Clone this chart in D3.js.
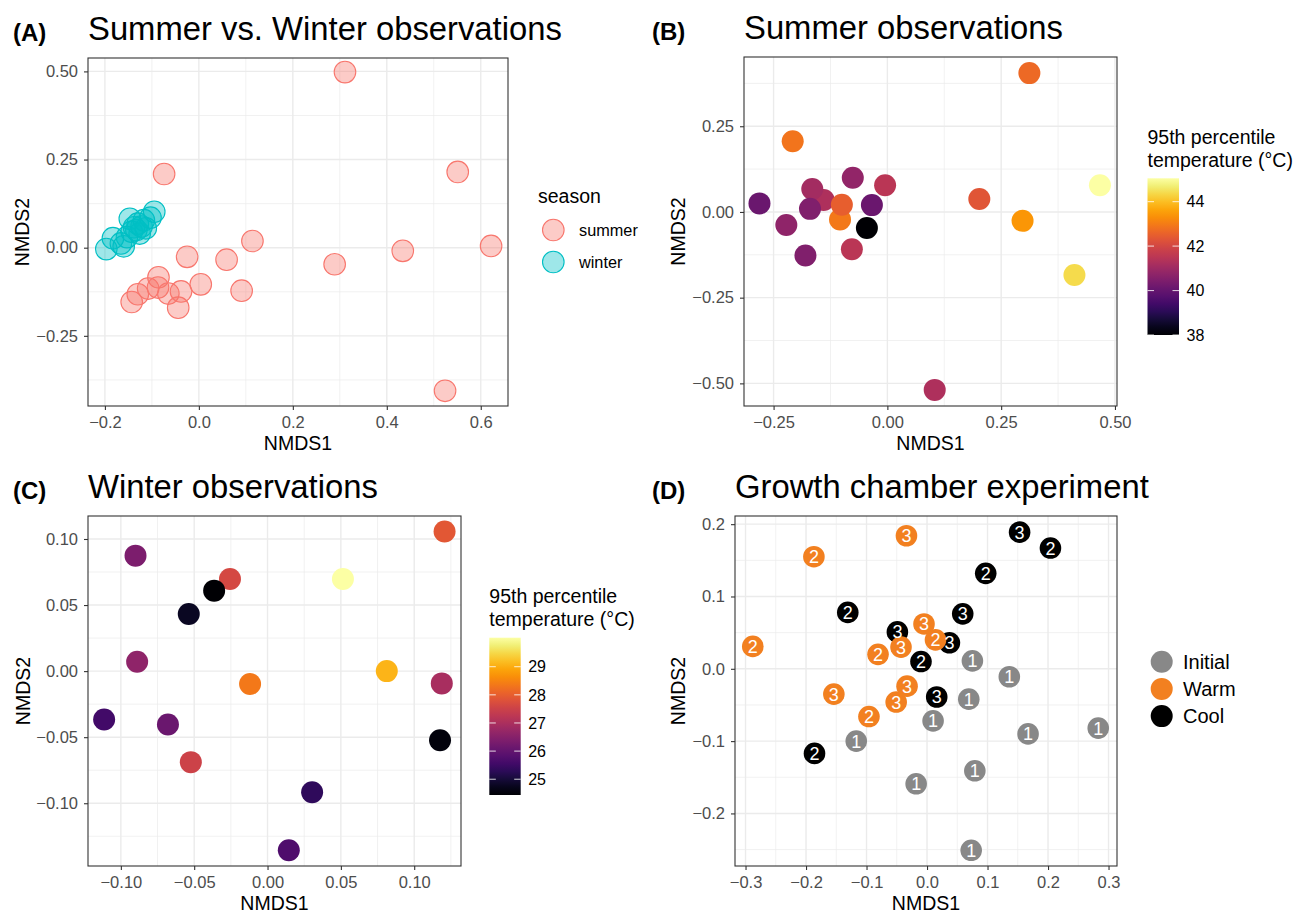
<!DOCTYPE html>
<html>
<head>
<meta charset="utf-8">
<script src="https://cdn.jsdelivr.net/npm/d3@7"></script>
<style>
  body { margin: 0; background: #fff; }
  svg text { font-family: "Liberation Sans", Arial, Helvetica, sans-serif; }
</style>
</head>
<body>
<svg id="fig" width="1295" height="913"></svg>
<script>
// ---- data ----
// (A) summer vs winter
const summerX = [0.311, -0.074, 0.551, 0.114, -0.025, 0.059, 0.289, 0.434, 0.622, 0.004,
                 0.091, -0.086, -0.087, -0.108, -0.130, -0.143, -0.065, -0.038, -0.044, 0.524];
const summerY = [0.498, 0.209, 0.215, 0.019, -0.026, -0.034, -0.047, -0.009, 0.005, -0.104,
                 -0.122, -0.084, -0.113, -0.116, -0.132, -0.154, -0.130, -0.124, -0.170, -0.406];
const winterX = [-0.197, -0.183, -0.166, -0.160, -0.153, -0.147, -0.143, -0.138,
                 -0.133, -0.130, -0.126, -0.122, -0.117, -0.113, -0.103, -0.095];
const winterY = [-0.004, 0.027, 0.012, 0.004, 0.030, 0.082, 0.045, 0.058,
                 0.050, 0.068, 0.040, 0.060, 0.078, 0.055, 0.085, 0.102];
const seasons = ["summer", "winter"];

// (B) summer observations
const sumObsX = [0.312, -0.208, 0.467, 0.202, 0.297, 0.411, 0.104, -0.281, -0.222, -0.180,
                 -0.140, -0.165, -0.170, -0.104, -0.100, -0.076, -0.005, -0.034, -0.045, -0.078];
const sumObsY = [0.405, 0.206, 0.078, 0.038, -0.026, -0.184, -0.519, 0.025, -0.038, -0.127,
                 0.035, 0.067, 0.009, -0.022, 0.021, 0.100, 0.078, 0.020, -0.047, -0.109];
const sumTemp = [42.7, 42.9, 45.05, 42.3, 43.4, 44.4, 41.3, 40.1, 40.75, 40.5,
                 41.3, 41.1, 40.5, 42.95, 42.5, 40.8, 41.5, 40.1, 38.0, 41.5];
const sumBreaks = [38, 40, 42, 44];

// (C) winter observations
const winObsX = [0.1207, -0.0900, -0.0256, 0.0514, -0.0364, -0.0537, -0.0889, -0.0119,
                 0.0813, 0.1188, -0.1114, -0.0679, -0.0523, 0.1176, 0.0304, 0.0145];
const winObsY = [0.1056, 0.0874, 0.0697, 0.0697, 0.0609, 0.0432, 0.0071, -0.0098,
                 0.0000, -0.0093, -0.0366, -0.0404, -0.0689, -0.0523, -0.0917, -0.1356];
const winTemp = [27.9, 26.34, 27.63, 30.03, 24.44, 24.78, 26.62, 28.35,
                 29.08, 26.96, 25.56, 26.12, 27.5, 24.55, 25.33, 25.73];
const winBreaks = [25, 26, 27, 28, 29];

// (D) growth chamber experiment
const chamberGroups = ["Initial", "Warm", "Cool"];
const chamberX = [0.075, 0.136, 0.069, 0.010, 0.283, 0.167, -0.117, 0.079, -0.018, 0.073,
                  0.153, 0.204, 0.097, -0.131, 0.059, -0.049, 0.037, -0.010, 0.016, -0.186,
                  -0.187, -0.034, -0.288, -0.005, 0.014, -0.043, -0.081, -0.154, -0.033, -0.051, -0.096];
const chamberY = [0.011, -0.011, -0.042, -0.072, -0.082, -0.090, -0.100, -0.141, -0.159, -0.251,
                  0.189, 0.167, 0.132, 0.078, 0.076, 0.051, 0.036, 0.010, -0.039, -0.117,
                  0.155, 0.184, 0.031, 0.062, 0.040, 0.030, 0.020, -0.035, -0.024, -0.046, -0.066];
const chamberGroup = ["Initial", "Initial", "Initial", "Initial", "Initial", "Initial", "Initial", "Initial", "Initial", "Initial",
                      "Cool", "Cool", "Cool", "Cool", "Cool", "Cool", "Cool", "Cool", "Cool", "Cool",
                      "Warm", "Warm", "Warm", "Warm", "Warm", "Warm", "Warm", "Warm", "Warm", "Warm", "Warm"];
const chamberLabel = ["1", "1", "1", "1", "1", "1", "1", "1", "1", "1",
                      "3", "2", "2", "2", "3", "3", "3", "2", "3", "2",
                      "2", "3", "2", "3", "2", "3", "2", "3", "3", "3", "2"];

// axis ticks
const ticksA_x = [-0.2, 0, 0.2, 0.4, 0.6], ticksA_y = [-0.25, 0, 0.25, 0.5];
const ticksB_x = [-0.25, 0, 0.25, 0.5], ticksB_y = [-0.5, -0.25, 0, 0.25];
const ticksC_x = [-0.1, -0.05, 0, 0.05, 0.1], ticksC_y = [-0.1, -0.05, 0, 0.05, 0.1];
const ticksD_x = [-0.3, -0.2, -0.1, 0, 0.1, 0.2, 0.3], ticksD_y = [-0.2, -0.1, 0, 0.1, 0.2];

// ---- drawing ----
const svg = d3.select("#fig");
const gridCol = "#EBEBEB", ink = "#333333", tickInk = "#4D4D4D";
const fontFam = '"Liberation Sans", Arial, Helvetica, sans-serif';
const seasonCol = { summer: "#F8766D", winter: "#00BFC4" };
const chamberCol = { Initial: "#888888", Warm: "#F28020", Cool: "#000000" };

// ggplot-style minor breaks: halfway between majors, kept inside the panel
function minorBreaks(ticks, domain) {
  const step = ticks[1] - ticks[0];
  const out = [];
  for (let v = ticks[0] - step * 1.5; v <= domain[1]; v += step) {
    if (v >= domain[0]) out.push(v);
  }
  return out;
}

function styleAxis(a) {
  a.attr("font-size", 16.5).attr("font-family", fontFam);
  a.select(".domain").remove();
  a.selectAll(".tick line").attr("stroke", ink).attr("stroke-width", 1.1);
  a.selectAll(".tick text").attr("fill", tickInk);
}

function drawPanel(p) {
  const g = svg.append("g");
  const x = d3.scaleLinear().domain(p.xDomain).range([p.left, p.right]);
  const y = d3.scaleLinear().domain(p.yDomain).range([p.bottom, p.top]);

  // grid
  g.selectAll(null).data(minorBreaks(p.xTicks, p.xDomain)).join("line")
    .attr("x1", d => x(d)).attr("x2", d => x(d)).attr("y1", p.top).attr("y2", p.bottom)
    .attr("stroke", gridCol).attr("stroke-width", 0.7);
  g.selectAll(null).data(minorBreaks(p.yTicks, p.yDomain)).join("line")
    .attr("y1", d => y(d)).attr("y2", d => y(d)).attr("x1", p.left).attr("x2", p.right)
    .attr("stroke", gridCol).attr("stroke-width", 0.7);
  g.selectAll(null).data(p.xTicks).join("line")
    .attr("x1", d => x(d)).attr("x2", d => x(d)).attr("y1", p.top).attr("y2", p.bottom)
    .attr("stroke", gridCol).attr("stroke-width", 1.4);
  g.selectAll(null).data(p.yTicks).join("line")
    .attr("y1", d => y(d)).attr("y2", d => y(d)).attr("x1", p.left).attr("x2", p.right)
    .attr("stroke", gridCol).attr("stroke-width", 1.4);

  // axes
  g.append("g").attr("transform", "translate(0," + p.bottom + ")")
    .call(d3.axisBottom(x).tickValues(p.xTicks).tickFormat(d3.format(p.fmtX)).tickSize(4).tickPadding(6))
    .call(styleAxis);
  g.append("g").attr("transform", "translate(" + p.left + ",0)")
    .call(d3.axisLeft(y).tickValues(p.yTicks).tickFormat(d3.format(p.fmtY)).tickSize(4).tickPadding(6))
    .call(styleAxis);

  // axis titles
  g.append("text").attr("x", (p.left + p.right) / 2).attr("y", p.bottom + 44)
    .attr("text-anchor", "middle").attr("font-size", 19.5).text("NMDS1");
  g.append("text").attr("transform", "translate(" + p.yTitleX + "," + (p.top + p.bottom) / 2 + ") rotate(-90)")
    .attr("text-anchor", "middle").attr("font-size", 19.5).text("NMDS2");

  // title + tag
  g.append("text").attr("x", p.left).attr("y", p.top - 18.5)
    .attr("font-size", 32.8).text(p.title);
  g.append("text").attr("x", p.tagX).attr("y", p.top - 17)
    .attr("font-size", 24).attr("font-weight", "bold").text(p.tag);

  const marks = g.append("g");
  const border = () => g.append("rect").attr("x", p.left).attr("y", p.top)
    .attr("width", p.right - p.left).attr("height", p.bottom - p.top)
    .attr("fill", "none").attr("stroke", ink).attr("stroke-width", 1.1);
  return { g, x, y, marks, border };
}

function colorbar(opt) {
  const g = svg.append("g");
  const s = d3.scaleLinear().domain(d3.extent(opt.values)).range([opt.bottom, opt.top]);
  const id = "grad" + opt.id;
  const grad = svg.append("defs").append("linearGradient").attr("id", id)
    .attr("x1", 0).attr("x2", 0).attr("y1", 1).attr("y2", 0);
  d3.range(0, 1.0001, 0.05).forEach(t => {
    grad.append("stop").attr("offset", t).attr("stop-color", d3.interpolateInferno(t));
  });
  g.append("rect").attr("x", opt.left).attr("y", opt.top).attr("width", opt.width)
    .attr("height", opt.bottom - opt.top).attr("fill", "url(#" + id + ")");
  // little white ticks on both edges of the bar
  g.selectAll(null).data(opt.breaks).join("line")
    .attr("x1", opt.left).attr("x2", opt.left + 6.5).attr("y1", d => s(d)).attr("y2", d => s(d))
    .attr("stroke", "#fff").attr("stroke-opacity", 0.75).attr("stroke-width", 1.1);
  g.selectAll(null).data(opt.breaks).join("line")
    .attr("x1", opt.left + opt.width - 6.5).attr("x2", opt.left + opt.width).attr("y1", d => s(d)).attr("y2", d => s(d))
    .attr("stroke", "#fff").attr("stroke-opacity", 0.75).attr("stroke-width", 1.1);
  g.selectAll(null).data(opt.breaks).join("text")
    .attr("x", opt.left + opt.width + 7.5).attr("y", d => s(d)).attr("dy", "0.36em")
    .attr("font-size", 16).text(d => d);
  g.append("text").attr("x", opt.left).attr("y", opt.titleY).attr("font-size", 19.5).text("95th percentile");
  g.append("text").attr("x", opt.left).attr("y", opt.titleY + 22.5).attr("font-size", 19.5).text("temperature (°C)");
}

// ---------- (A) ----------
const A = drawPanel({
  left: 88, right: 508, top: 58, bottom: 406,
  xDomain: [-0.236, 0.658], yDomain: [-0.449, 0.538],
  xTicks: ticksA_x, yTicks: ticksA_y, fmtX: ".1f", fmtY: ".2f",
  title: "Summer vs. Winter observations", tag: "(A)", tagX: 13, yTitleX: 29
});
const ptsA = summerX.map((v, i) => ({ x: v, y: summerY[i], s: "summer" }))
  .concat(winterX.map((v, i) => ({ x: v, y: winterY[i], s: "winter" })));
A.marks.selectAll("circle").data(ptsA).join("circle")
  .attr("cx", d => A.x(d.x)).attr("cy", d => A.y(d.y)).attr("r", 10.8)
  .attr("fill", d => seasonCol[d.s]).attr("fill-opacity", 0.38)
  .attr("stroke", d => seasonCol[d.s]).attr("stroke-width", 1.1);
A.border();

const legA = svg.append("g");
legA.append("text").attr("x", 538).attr("y", 203).attr("font-size", 19.5).text("season");
legA.selectAll("circle").data(seasons).join("circle")
  .attr("cx", 553.3).attr("cy", (d, i) => 230 + i * 32).attr("r", 10.8)
  .attr("fill", d => seasonCol[d]).attr("fill-opacity", 0.38)
  .attr("stroke", d => seasonCol[d]).attr("stroke-width", 1.1);
legA.selectAll("text.lab").data(seasons).join("text").attr("class", "lab")
  .attr("x", 579).attr("y", (d, i) => 230 + i * 32).attr("dy", "0.36em")
  .attr("font-size", 16.3).text(d => d);

// ---------- (B) ----------
const B = drawPanel({
  left: 744, right: 1117, top: 57, bottom: 406,
  xDomain: [-0.315, 0.5045], yDomain: [-0.566, 0.452],
  xTicks: ticksB_x, yTicks: ticksB_y, fmtX: ".2f", fmtY: ".2f",
  title: "Summer observations", tag: "(B)", tagX: 652, yTitleX: 685
});
const colB = d3.scaleSequential(d3.interpolateInferno).domain(d3.extent(sumTemp));
B.marks.selectAll("circle").data(sumTemp).join("circle")
  .attr("cx", (d, i) => B.x(sumObsX[i])).attr("cy", (d, i) => B.y(sumObsY[i])).attr("r", 11)
  .attr("fill", d => colB(d));
B.border();
colorbar({ id: "B", values: sumTemp, breaks: sumBreaks, left: 1147.5, width: 31.5, top: 178.3, bottom: 335, titleY: 144 });

// ---------- (C) ----------
const C = drawPanel({
  left: 88, right: 461, top: 516, bottom: 866,
  xDomain: [-0.1224, 0.1319], yDomain: [-0.1475, 0.1174],
  xTicks: ticksC_x, yTicks: ticksC_y, fmtX: ".2f", fmtY: ".2f",
  title: "Winter observations", tag: "(C)", tagX: 13, yTitleX: 30
});
const colC = d3.scaleSequential(d3.interpolateInferno).domain(d3.extent(winTemp));
C.marks.selectAll("circle").data(winTemp).join("circle")
  .attr("cx", (d, i) => C.x(winObsX[i])).attr("cy", (d, i) => C.y(winObsY[i])).attr("r", 11)
  .attr("fill", d => colC(d));
C.border();
colorbar({ id: "C", values: winTemp, breaks: winBreaks, left: 489.3, width: 31.4, top: 637.7, bottom: 795, titleY: 603 });

// ---------- (D) ----------
const D = drawPanel({
  left: 735, right: 1117, top: 516, bottom: 866,
  xDomain: [-0.3174, 0.314], yDomain: [-0.2727, 0.2113],
  xTicks: ticksD_x, yTicks: ticksD_y, fmtX: ".1f", fmtY: ".1f",
  title: "Growth chamber experiment", tag: "(D)", tagX: 652, yTitleX: 685
});
const ptsD = chamberX.map((v, i) => ({ x: v, y: chamberY[i], grp: chamberGroup[i], lab: chamberLabel[i] }));
D.marks.selectAll("circle").data(ptsD).join("circle")
  .attr("cx", d => D.x(d.x)).attr("cy", d => D.y(d.y)).attr("r", 10.8)
  .attr("fill", d => chamberCol[d.grp]);
D.marks.selectAll("text").data(ptsD).join("text")
  .attr("x", d => D.x(d.x)).attr("y", d => D.y(d.y)).attr("dy", "0.36em")
  .attr("text-anchor", "middle").attr("font-size", 18).attr("fill", "#fff").text(d => d.lab);
D.border();

const legD = svg.append("g");
legD.selectAll("circle").data(chamberGroups).join("circle")
  .attr("cx", 1161.7).attr("cy", (d, i) => 661.7 + i * 27.2).attr("r", 11)
  .attr("fill", d => chamberCol[d]);
legD.selectAll("text").data(chamberGroups).join("text")
  .attr("x", 1183).attr("y", (d, i) => 661.7 + i * 27.2).attr("dy", "0.36em")
  .attr("font-size", 20).text(d => d);
</script>
</body>
</html>
